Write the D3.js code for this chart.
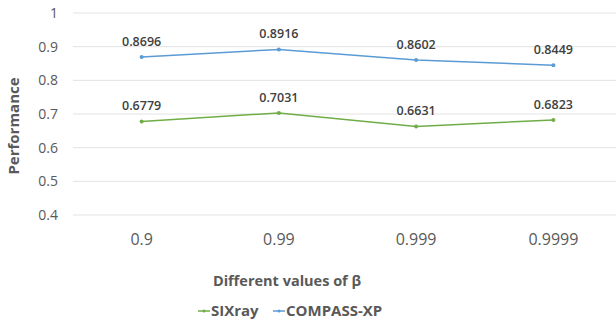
<!DOCTYPE html>
<html><head><meta charset="utf-8">
<script src="https://cdn.jsdelivr.net/npm/d3@7"></script>
<style>body{margin:0;background:#fff;}svg{display:block;font-family:"Open Sans",sans-serif;}</style>
</head><body>
<svg id="c" width="616" height="324"></svg>
<script>
const categories = ["0.9","0.99","0.999","0.9999"];
const sixray = [0.6779,0.7031,0.6631,0.6823];
const compass = [0.8696,0.8916,0.8602,0.8449];
const yTicks = [0.4,0.5,0.6,0.7,0.8,0.9,1];
const seriesNames = ["SIXray","COMPASS-XP"];
const colors = ["#70AD47","#5B9BD5"];

const svg = d3.select("#c");
const x = d3.scaleBand().domain(categories).range([73,622]);
const y = d3.scaleLinear().domain([0.4,1]).range([215,13]);

svg.append("g").selectAll("line").data(yTicks).join("line")
  .attr("x1",73).attr("x2",616).attr("y1",d=>y(d)).attr("y2",d=>y(d))
  .attr("stroke","#e3e3e3").attr("stroke-width",1);

svg.append("g").selectAll("text").data(yTicks).join("text")
  .attr("x",58).attr("y",d=>y(d)).attr("dy","0.35em").attr("text-anchor","end")
  .attr("font-size",14).attr("fill","#595959").text(d=>d3.format("")(d));

svg.append("g").selectAll("text").data(categories).join("text")
  .attr("x",d=>x(d)+x.bandwidth()/2).attr("y",239).attr("dy","0.35em").attr("text-anchor","middle")
  .attr("font-size",16).attr("fill","#595959").text(d=>d);

svg.append("text").attr("transform","translate(14,126) rotate(-90)").attr("text-anchor","middle")
  .attr("dy","0.35em").attr("font-size",15).attr("font-weight","bold").attr("fill","#595959").text("Performance");

svg.append("text").attr("x",287).attr("y",281).attr("dy","0.35em").attr("text-anchor","middle")
  .attr("font-size",14.5).attr("font-weight","bold").attr("fill","#595959").text("Different values of β");

const series = [sixray, compass];
const cx = d=>x(d)+x.bandwidth()/2;
const line = d3.line().x((d,i)=>cx(categories[i])).y(d=>y(d));
series.forEach((s,k)=>{
  svg.append("path").datum(s).attr("d",line).attr("fill","none").attr("stroke",colors[k]).attr("stroke-width",1.5);
  svg.append("g").selectAll("circle").data(s).join("circle")
    .attr("cx",(d,i)=>cx(categories[i])).attr("cy",d=>y(d)).attr("r",2).attr("fill",colors[k]);
  svg.append("g").selectAll("text").data(s).join("text")
    .attr("x",(d,i)=>cx(categories[i])).attr("y",d=>y(d)-11).attr("text-anchor","middle")
    .attr("font-size",12.5).attr("font-weight","600").attr("fill","#404040").text(d=>d3.format(".4f")(d));
});

const legX = [198,273];
seriesNames.forEach((n,k)=>{
  svg.append("line").attr("x1",legX[k]).attr("x2",legX[k]+12).attr("y1",311).attr("y2",311)
    .attr("stroke",colors[k]).attr("stroke-width",1.5);
  svg.append("circle").attr("cx",legX[k]+6).attr("cy",311).attr("r",1.5).attr("fill",colors[k]);
  svg.append("text").attr("x",legX[k]+13).attr("y",311).attr("dy","0.35em")
    .attr("font-size",15).attr("font-weight","bold").attr("fill","#595959").text(n);
});
</script>
</body></html>
